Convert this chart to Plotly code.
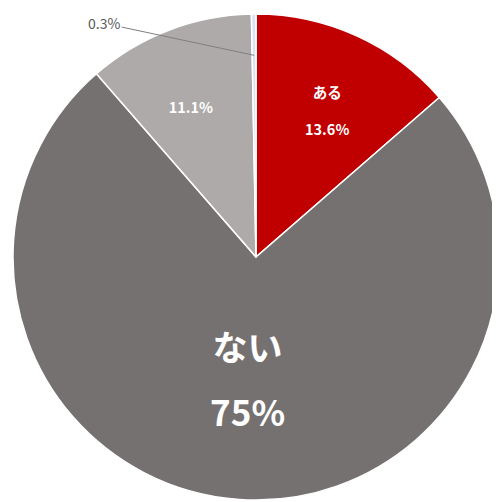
import math
import plotly.graph_objects as go

# Data
labels = ["ある", "ない", "わからない", "無回答"]
values = [13.6, 75.0, 11.1, 0.3]
show_label = [True, True, False, False]

colors = ["#C00000", "#767171", "#AEAAAA", "#DAE3F3"]

def pct(v):
    return f"{v:g}%"

FONT = "Noto Sans CJK JP"
NB = "\u00a0"

texts = []
for lab, v, sl in zip(labels, values, show_label):
    if v < 1:
        texts.append("")
    elif v > 50:
        texts.append(f"<span style='font-size:35px'>{lab}</span><br><span style='font-size:35px'>{pct(v)}</span>")
    elif sl:
        texts.append(f"{NB}<br>{lab}<br><br>{pct(v)}")
    else:
        texts.append(f"{NB}<br>{NB}<br>{pct(v)}")

text_sizes = [14.5 if v <= 50 else 50 for v in values]

fig = go.Figure(go.Pie(
    labels=labels,
    values=values,
    text=texts,
    textinfo="text",
    textposition="inside",
    insidetextorientation="horizontal",
    sort=False,
    direction="clockwise",
    rotation=0,
    marker=dict(colors=colors, line=dict(color="white", width=1.5)),
    insidetextfont=dict(family=FONT, size=text_sizes, color="white", weight="bold"),
    showlegend=False,
    hoverinfo="label+value",
))

W, H = 500, 502
ml, mt = 5, 6
P = 486
mr, mb = W - ml - P, H - mt - P

# annotation for the tiny slice, pointed at the slice's mid-angle
total = sum(values)
cum = 0
for lab, v in zip(labels, values):
    if v < 1:
        mid = (cum + v / 2) / total * 2 * math.pi
        r = 0.83 * 0.5
        ax_ = 0.5 + r * math.sin(mid)
        ay_ = 0.5 + r * math.cos(mid)
        fig.add_annotation(
            x=ax_, y=ay_, xref="paper", yref="paper",
            text=pct(v), showarrow=True, arrowhead=0, arrowwidth=1,
            arrowcolor="#7F7F7F", ax=-150, ay=-32,
            font=dict(family=FONT, size=14, color="#595959"),
        )
    cum += v

fig.update_layout(
    width=W, height=H, autosize=False,
    margin=dict(l=ml, r=mr, t=mt, b=mb, pad=0),
    paper_bgcolor="white", plot_bgcolor="white",
    font=dict(family=FONT),
)

fig.write_html("out.html")
